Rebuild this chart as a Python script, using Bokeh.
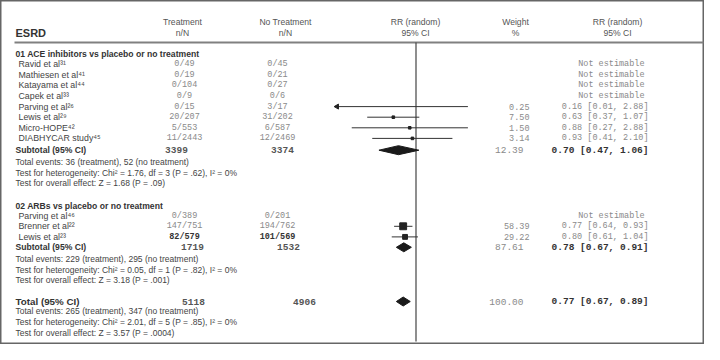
import numpy as np
from bokeh.plotting import figure
from bokeh.models import Range1d, LogScale
from bokeh.core.properties import value
from bokeh.embed import file_html
from bokeh.resources import INLINE

# ---------------- data ----------------
sec1_title = "01 ACE inhibitors vs placebo or no treatment"
sec1_studies = ["Ravid et al³¹", "Mathiesen et al⁴¹", "Katayama et al⁴⁴", "Capek et al³³",
                "Parving et al²⁶", "Lewis et al²⁹", "Micro-HOPE⁴²", "DIABHYCAR study⁴⁵"]
sec1_treat = ["0/49", "0/19", "0/104", "0/9", "0/15", "20/207", "5/553", "11/2443"]
sec1_ctrl = ["0/45", "0/21", "0/27", "0/6", "3/17", "31/202", "6/587", "12/2469"]
sec1_weight = [None, None, None, None, 0.25, 7.50, 1.50, 3.14]
sec1_rr = [None, None, None, None, 0.16, 0.63, 0.88, 0.93]
sec1_lo = [None, None, None, None, 0.01, 0.37, 0.27, 0.41]
sec1_hi = [None, None, None, None, 2.88, 1.07, 2.88, 2.10]
sec1_sub = ["3399", "3374", 12.39, 0.70, 0.47, 1.06]
sec1_notes = ["Total events: 36 (treatment), 52 (no treatment)",
              "Test for heterogeneity: Chi² = 1.76, df = 3 (P = .62), I² = 0%",
              "Test for overall effect: Z = 1.68 (P = .09)"]

sec2_title = "02 ARBs vs placebo or no treatment"
sec2_studies = ["Parving et al⁴⁶", "Brenner et al²²", "Lewis et al²³"]
sec2_treat = ["0/389", "147/751", "82/579"]
sec2_ctrl = ["0/201", "194/762", "101/569"]
sec2_weight = [None, 58.39, 29.22]
sec2_rr = [None, 0.77, 0.80]
sec2_lo = [None, 0.64, 0.61]
sec2_hi = [None, 0.93, 1.04]
sec2_sub = ["1719", "1532", 87.61, 0.78, 0.67, 0.91]
sec2_notes = ["Total events: 229 (treatment), 295 (no treatment)",
              "Test for heterogeneity: Chi² = 0.05, df = 1 (P = .82), I² = 0%",
              "Test for overall effect: Z = 3.18 (P = .001)"]

total_vals = ["5118", "4906", 100.00, 0.77, 0.67, 0.89]
total_notes = ["Total events: 265 (treatment), 347 (no treatment)",
               "Test for heterogeneity: Chi² = 2.01, df = 5 (P = .85), I² = 0%",
               "Test for overall effect: Z = 3.57 (P = .0004)"]

headers = [("Treatment", "n/N"), ("No Treatment", "n/N"), ("RR (random)", "95% CI"),
           ("Weight", "%"), ("RR (random)", "95% CI")]
AXIS_MIN, AXIS_MAX = 0.2, 5.0

# ---------------- layout ----------------
W, H = 704, 344
SANS = value("Liberation Sans")
MONO = value("Liberation Mono")
DARK, MID, LIGHT = "#333333", "#555555", "#8a8a8a"

p = figure(width=W, height=H, x_range=Range1d(0, W), y_range=Range1d(H, 0),
           output_backend="svg", toolbar_location=None, min_border=0)
p.axis.visible = False
p.grid.visible = False
p.outline_line_color = "#666666"
p.outline_line_width = 2
p.background_fill_color = "white"

# log scale for the forest part
X_ONE, PX_PER_DEC = 415.5, 113.0
p.extra_x_ranges = {"rr": Range1d(10 ** ((0 - X_ONE) / PX_PER_DEC),
                                  10 ** ((W - X_ONE) / PX_PER_DEC))}
p.extra_x_scales = {"rr": LogScale()}

X_NAME, X_STUDY = 15, 18
X_TREAT, X_CTRL = 184, 277
X_HDR = [182, 285, 415, 515, 617]
X_W, X_W_SUB, X_RR = 529, 523, 648
MONO_SZ, MONO_SUM = "8.5px", "9.5px"

def txt(x, y, s, font=SANS, size="8.8px", color=DARK, style="normal", align="left"):
    p.text(x=[x], y=[y], text=[s], text_font=font, text_font_size=size,
           text_color=color, text_font_style=style, text_align=align,
           text_baseline="middle")

# headers
for (h1, h2), x in zip(headers, X_HDR):
    txt(x, 21, h1, size="8.6px", color=MID, align="center")
    txt(x, 32, h2, size="8.6px", color=MID, align="center")
txt(X_NAME, 32, "ESRD", size="11px", style="bold", color=DARK)
p.segment(x0=[14], x1=[703], y0=[42], y1=[42], line_color="#808080", line_width=2)

# null line
p.segment(x0=[1.0], x1=[1.0], y0=[42], y1=[341], x_range_name="rr",
          line_color="#444444", line_width=1.2)

def study_rows(y0, names, treat, ctrl, weight, rr, lo, hi, bold_last=False):
    step = 10.6
    ys = [y0 + i * step for i in range(len(names))]
    for i, y in enumerate(ys):
        txt(X_STUDY, y, names[i], size="8.8px", color="#444444")
        b = bold_last and i == len(names) - 1
        txt(X_TREAT, y, treat[i], font=MONO, size=MONO_SZ,
            color=DARK if b else LIGHT, style="bold" if b else "normal", align="center")
        txt(X_CTRL, y, ctrl[i], font=MONO, size=MONO_SZ,
            color=DARK if b else LIGHT, style="bold" if b else "normal", align="center")
        if rr[i] is None:
            txt(X_RR - 4, y, "Not estimable", font=MONO, size=MONO_SZ, color=LIGHT, align="right")
            continue
        txt(X_W, y, f"{weight[i]:.2f}", font=MONO, size=MONO_SZ, color=LIGHT, align="right")
        txt(X_RR, y, f"{rr[i]:.2f} [{lo[i]:.2f}, {hi[i]:.2f}]", font=MONO, size=MONO_SZ,
            color=LIGHT, align="right")
        a, b2 = max(lo[i], AXIS_MIN), min(hi[i], AXIS_MAX)
        p.segment(x0=[a], x1=[b2], y0=[y], y1=[y], x_range_name="rr",
                  line_color="#333333", line_width=1)
        if lo[i] < AXIS_MIN:
            p.scatter(x=[AXIS_MIN], y=[y], marker="triangle", angle=np.pi / 2, size=5,
                      x_range_name="rr", color="#222222")
        if AXIS_MIN <= rr[i] <= AXIS_MAX:
            p.scatter(x=[rr[i]], y=[y], marker="square",
                      size=max(2.6, 0.9 * np.sqrt(weight[i])),
                      x_range_name="rr", color="#222222")
    return ys

def summary(y, label, vals, xt, xc, size="8.6px"):
    txt(X_NAME, y, label, size=size, style="bold", color=DARK)
    txt(xt, y, vals[0], font=MONO, size=MONO_SUM, style="bold", color=MID, align="center")
    txt(xc, y, vals[1], font=MONO, size=MONO_SUM, style="bold", color=MID, align="center")
    txt(X_W_SUB, y, f"{vals[2]:.2f}", font=MONO, size=MONO_SUM, color=LIGHT, align="right")
    txt(X_RR, y, f"{vals[3]:.2f} [{vals[4]:.2f}, {vals[5]:.2f}]", font=MONO, size=MONO_SUM,
        style="bold", color=DARK, align="right")
    p.patches(xs=[[vals[4], vals[3], vals[5], vals[3]]], ys=[[y, y - 4.5, y, y + 4.5]],
              x_range_name="rr", fill_color="#1a1a1a", line_color="#1a1a1a")

def notes(y0, lines):
    for i, s in enumerate(lines):
        txt(X_NAME, y0 + i * 10.8, s, size="8.5px", color="#444444")

# section 1
txt(X_NAME, 53, sec1_title, size="8.6px", style="bold", color=DARK)
study_rows(63.7, sec1_studies, sec1_treat, sec1_ctrl, sec1_weight, sec1_rr, sec1_lo, sec1_hi)
summary(149.7, "Subtotal (95% CI)", sec1_sub, 176, 282)
notes(161.2, sec1_notes)

# section 2
txt(X_NAME, 205, sec2_title, size="8.6px", style="bold", color=DARK)
study_rows(215.2, sec2_studies, sec2_treat, sec2_ctrl, sec2_weight, sec2_rr, sec2_lo, sec2_hi,
           bold_last=True)
summary(246.8, "Subtotal (95% CI)", sec2_sub, 192, 288)
notes(258.3, sec2_notes)

# total
summary(301, "Total (95% CI)", total_vals, 193, 304, size="9.8px")
notes(310.5, total_notes)

open("out.html", "w").write(file_html(p, INLINE))
